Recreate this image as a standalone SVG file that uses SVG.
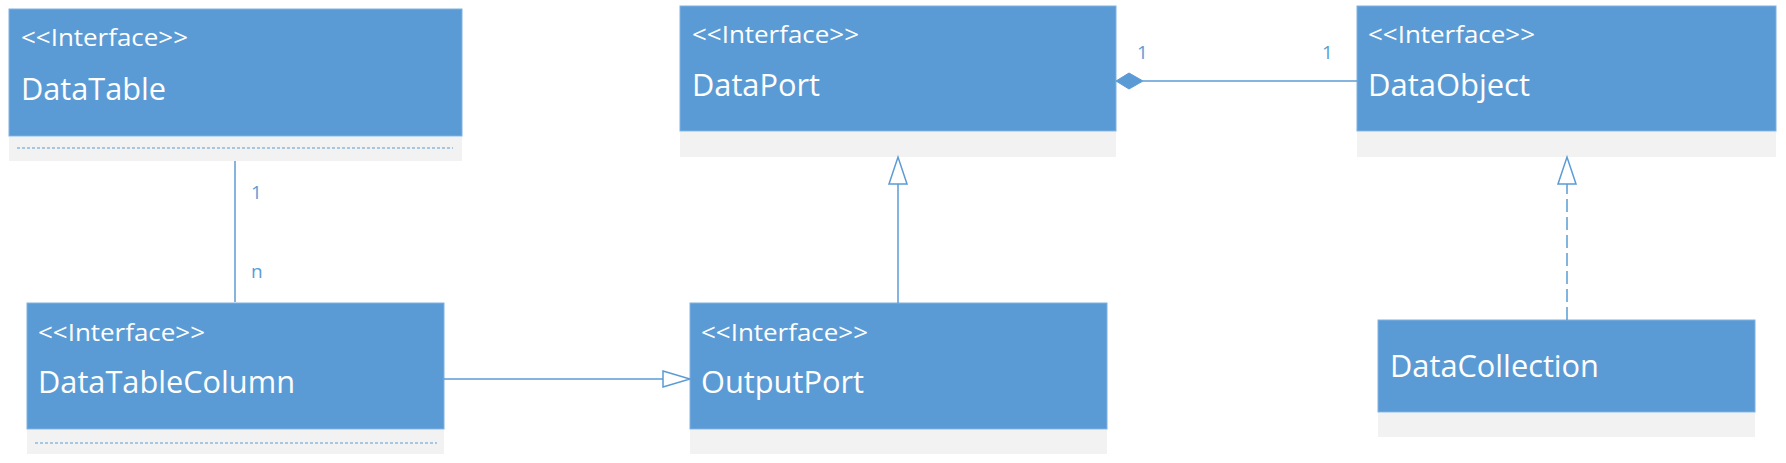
<svg xmlns="http://www.w3.org/2000/svg" width="1786" height="463" viewBox="0 0 1786 463">
<style>
.hdr{fill:#5b9bd5;stroke:#7fb1df;stroke-width:1}
.cmp{fill:#f2f2f2}
.st{font-family:"Open Sans","Liberation Sans",sans-serif;font-size:23px;fill:#ffffff}
.nm{font-family:"Open Sans","Liberation Sans",sans-serif;font-size:31px;fill:#ffffff}
.sep{stroke:#5b9bd5;stroke-width:1.2;stroke-dasharray:3 2;fill:none}
.ln{stroke:#5b9bd5;stroke-width:1.5;fill:none}
.lbl{font-family:"Open Sans","Liberation Sans",sans-serif;font-size:19px;fill:#5b9bd5}
</style>
<rect width="1786" height="463" fill="#ffffff"/>

<g id="DataTable">
<rect class="hdr" x="9" y="9" width="453" height="127"/>
<rect class="cmp" x="9" y="137" width="453" height="24"/>
<line class="sep" x1="17" y1="148" x2="453" y2="148"/>
<text class="st" x="21" y="46" textLength="167" lengthAdjust="spacingAndGlyphs">&lt;&lt;Interface&gt;&gt;</text>
<text class="nm" x="21" y="100" textLength="145" lengthAdjust="spacingAndGlyphs">DataTable</text>
</g>

<g id="DataPort">
<rect class="hdr" x="680" y="6" width="436" height="125"/>
<rect class="cmp" x="680" y="132" width="436" height="25"/>
<text class="st" x="692" y="43" textLength="167" lengthAdjust="spacingAndGlyphs">&lt;&lt;Interface&gt;&gt;</text>
<text class="nm" x="692" y="96" textLength="128" lengthAdjust="spacingAndGlyphs">DataPort</text>
</g>

<g id="DataObject">
<rect class="hdr" x="1357" y="6" width="419" height="125"/>
<rect class="cmp" x="1357" y="132" width="419" height="25"/>
<text class="st" x="1368" y="43" textLength="167" lengthAdjust="spacingAndGlyphs">&lt;&lt;Interface&gt;&gt;</text>
<text class="nm" x="1368" y="96" textLength="162" lengthAdjust="spacingAndGlyphs">DataObject</text>
</g>

<g id="DataTableColumn">
<rect class="hdr" x="27" y="303" width="417" height="126"/>
<rect class="cmp" x="27" y="430" width="417" height="24"/>
<line class="sep" x1="35" y1="443" x2="437" y2="443"/>
<text class="st" x="38" y="341" textLength="167" lengthAdjust="spacingAndGlyphs">&lt;&lt;Interface&gt;&gt;</text>
<text class="nm" x="38" y="393" textLength="257" lengthAdjust="spacingAndGlyphs">DataTableColumn</text>
</g>

<g id="OutputPort">
<rect class="hdr" x="690" y="303" width="417" height="126"/>
<rect class="cmp" x="690" y="430" width="417" height="24"/>
<text class="st" x="701" y="341" textLength="167" lengthAdjust="spacingAndGlyphs">&lt;&lt;Interface&gt;&gt;</text>
<text class="nm" x="701" y="393" textLength="163" lengthAdjust="spacingAndGlyphs">OutputPort</text>
</g>

<g id="DataCollection">
<rect class="hdr" x="1378" y="320" width="377" height="92"/>
<rect class="cmp" x="1378" y="413" width="377" height="24"/>
<text class="nm" x="1390" y="377" textLength="209" lengthAdjust="spacingAndGlyphs">DataCollection</text>
</g>

<g id="connectors">
<line class="ln" x1="235" y1="161" x2="235" y2="302"/>
<text class="lbl" x="251" y="199">1</text>
<text class="lbl" x="251" y="278">n</text>

<line class="ln" x1="444" y1="379" x2="663" y2="379"/>
<polygon class="ln" fill="#ffffff" points="663,371 690,379 663,387"/>

<line class="ln" x1="898" y1="303" x2="898" y2="184"/>
<polygon class="ln" fill="#ffffff" points="889,184 898,157 907,184"/>

<line class="ln" x1="1143" y1="81" x2="1357" y2="81"/>
<polygon fill="#5b9bd5" stroke="#5b9bd5" stroke-width="1" points="1116,81 1129,73 1143,81 1129,89"/>
<text class="lbl" x="1137" y="59">1</text>
<text class="lbl" x="1322" y="59">1</text>

<line class="ln" x1="1567" y1="320" x2="1567" y2="184" stroke-dasharray="13 5"/>
<polygon class="ln" fill="#ffffff" points="1558,184 1567,157 1576,184"/>
</g>
</svg>
